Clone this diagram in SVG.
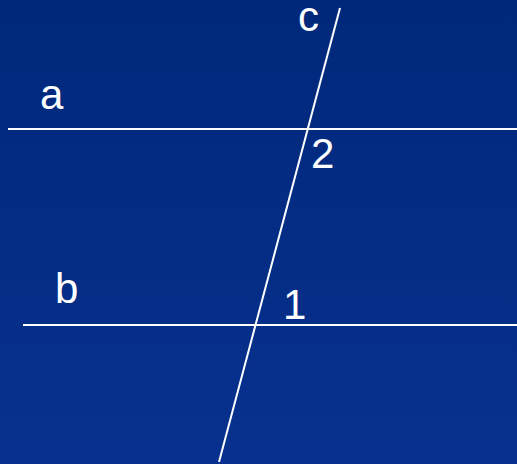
<svg xmlns="http://www.w3.org/2000/svg" width="517" height="464" viewBox="0 0 517 464">
<defs>
<linearGradient id="bg" x1="0" y1="0" x2="0" y2="1">
<stop offset="0" stop-color="#00287a"/>
<stop offset="1" stop-color="#08318f"/>
</linearGradient>
<style>
.ln{stroke:#ffffff;stroke-width:2;fill:none}
.lb{fill:#ffffff;font-family:"Liberation Sans",Arial,sans-serif;font-size:42px}
</style>
</defs>
<rect width="517" height="464" fill="url(#bg)"/>
<g id="connectors">
<line class="ln" x1="8" y1="129" x2="517" y2="129"/>
<line class="ln" x1="23" y1="325" x2="517" y2="325"/>
<line class="ln" x1="340" y1="8" x2="219" y2="462"/>
</g>
<g id="label-c"><text class="lb" x="298" y="31">c</text></g>
<g id="label-a"><text class="lb" x="40" y="109">a</text></g>
<g id="label-2"><text class="lb" x="311" y="168">2</text></g>
<g id="label-b"><text class="lb" x="55" y="303">b</text></g>
<g id="label-1"><text class="lb" x="283" y="319">1</text></g>
</svg>
